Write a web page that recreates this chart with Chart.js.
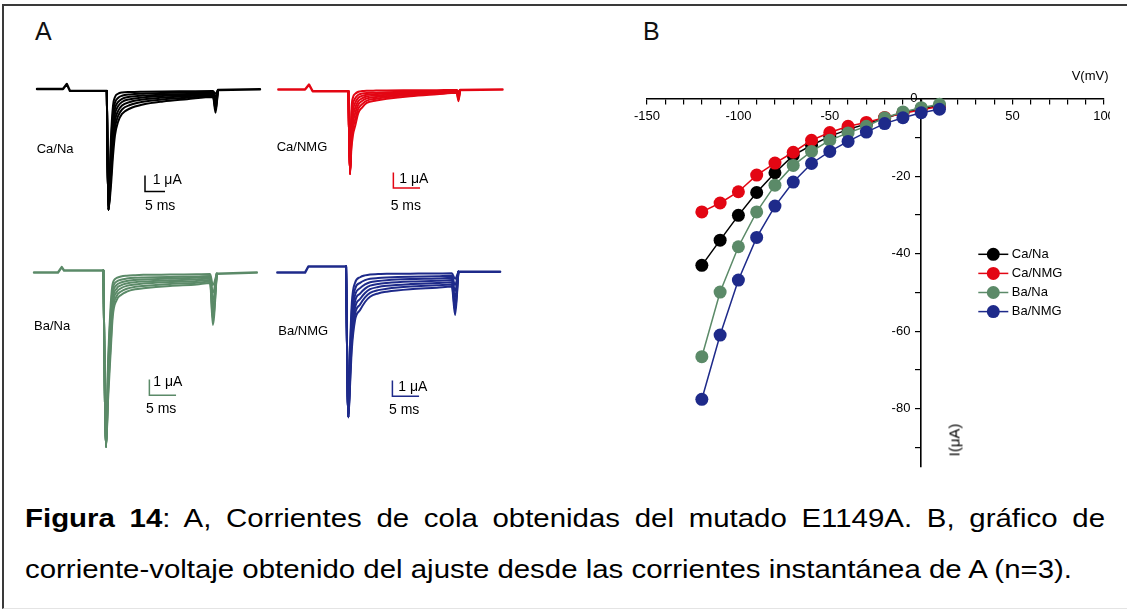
<!DOCTYPE html>
<html lang="es">
<head>
<meta charset="utf-8">
<title>Figura 14</title>
<script src="https://cdn.jsdelivr.net/npm/chart.js@4.4.1/dist/chart.umd.min.js"></script>
<style>
  html, body { margin: 0; padding: 0; background: #fff; }
  body {
    width: 1127px; height: 610px; position: relative; overflow: hidden;
    font-family: 'Liberation Sans', Arial, sans-serif; color: #000;
  }
  .frame {
    position: absolute; left: 2px; top: 4px; width: 1140px; height: 602px;
    border-top: 2px solid #3a3a3a; border-left: 2px solid #3a3a3a; border-bottom: 1px solid #e4e4e4;
  }
  .abs { position: absolute; white-space: nowrap; line-height: normal; }
  .lbl { font-size: 13px; }
  .bar { font-size: 14px; }
  .letter { font-size: 25px; color: #111; }
  canvas { position: absolute; }
  #ivWrap { position: absolute; left: 600px; top: 60px; width: 510px; height: 430px; overflow: hidden; }
  #ivWrap canvas { left: 0; top: 0; }
  .cap { position: absolute; left: 25px; font-size: 26px; white-space: nowrap; transform-origin: 0 0; }
  #cap1 { text-align: justify; text-align-last: justify; white-space: normal; }
</style>
</head>
<body>
<div class="frame"></div>

<canvas id="pCaNa" width="240" height="144" style="left:30px;top:73px;width:240px;height:144px"></canvas>
<canvas id="pCaNmg" width="240" height="132" style="left:270px;top:74px;width:240px;height:132px"></canvas>
<canvas id="pBaNa" width="240" height="202" style="left:25px;top:257px;width:240px;height:202px"></canvas>
<canvas id="pBaNmg" width="240" height="179" style="left:270px;top:257px;width:240px;height:179px"></canvas>
<div id="ivWrap"><canvas id="ivChart" width="530" height="430" style="width:530px;height:430px"></canvas></div>

<div class="abs letter" style="left:35px;top:17px">A</div>
<div class="abs letter" style="left:643px;top:17px">B</div>

<div class="abs lbl" style="left:36.7px;top:140.5px">Ca/Na</div>
<div class="abs lbl" style="left:276.7px;top:139px">Ca/NMG</div>
<div class="abs lbl" style="left:34px;top:318.2px">Ba/Na</div>
<div class="abs lbl" style="left:278.3px;top:322.5px">Ba/NMG</div>

<div class="abs bar" style="left:152.7px;top:171.3px">1 μA</div>
<div class="abs bar" style="left:145px;top:197.4px">5 ms</div>
<div class="abs bar" style="left:399.3px;top:170px">1 μA</div>
<div class="abs bar" style="left:390.7px;top:197.4px">5 ms</div>
<div class="abs bar" style="left:153.3px;top:373.3px">1 μA</div>
<div class="abs bar" style="left:146px;top:400px">5 ms</div>
<div class="abs bar" style="left:398.3px;top:378.3px">1 μA</div>
<div class="abs bar" style="left:389px;top:400.7px">5 ms</div>

<div class="abs lbl" style="left:1071.7px;top:67.5px">V(mV)</div>
<div class="abs" style="left:954px;top:440px;font-size:15px;transform:translate(-50%,-50%) rotate(-90deg)">I(μA)</div>

<div id="cap1" class="cap" style="top:503px;width:1080px"><b>Figura 14</b>: A, Corrientes de cola obtenidas del mutado E1149A. B, gráfico de</div>
<div id="cap2" class="cap" style="top:554px">corriente-voltaje obtenido del ajuste desde las corrientes instantánea de A (n=3).</div>

<script>
// ---- Panel B: current-voltage data ----
const voltages = [-120, -110, -100, -90, -80, -70, -60, -50, -40, -30, -20, -10, 0, 10];
const currentCaNa = [-43.0, -36.5, -30.1, -24.2, -19.1, -14.6, -12.0, -9.7, -7.9, -6.5, -5.0, -3.6, -2.5, -1.8];
const currentCaNmg = [-29.2, -26.9, -24.0, -19.7, -16.6, -13.8, -10.7, -8.7, -7.1, -6.1, -4.8, -3.8, -2.8, -2.0];
const currentBaNa = [-66.6, -49.9, -38.2, -29.2, -22.3, -17.2, -13.6, -10.7, -8.8, -7.1, -4.9, -3.4, -2.3, -1.4];
const currentBaNmg = [-77.6, -61.0, -46.8, -35.8, -27.7, -21.5, -16.7, -13.6, -11.0, -8.6, -6.4, -4.9, -3.6, -2.7];
const seriesNames = ['Ca/Na', 'Ca/NMG', 'Ba/Na', 'Ba/NMG'];
const seriesColors = ['#000000', '#e30613', '#5b8a68', '#1e2a8a'];

const xTickLabels = [-150, -100, -50, 50, 100];
const yTickLabels = [0, -20, -40, -60, -80];

// ---- Panel A: tail current traces (time in ms, current in μA) ----
const baselineCaNa = [[1.75, 0], [8.25, 0], [9.2, 0.31], [10, -0.12], [19.2, -0.12]];
const tailTimeCaNa = [19.6, 20.25, 20.75, 21.25, 22, 23, 25, 28.25, 33.25, 39.25, 45.75];
const tracesCaNa = [
    [-7.56, -6.0, -4.19, -2.88, -2.06, -1.56, -1.22, -0.97, -0.78, -0.64, -0.5],
    [-7.56, -5.5, -3.6, -2.4, -1.7, -1.28, -1.0, -0.8, -0.65, -0.54, -0.44],
    [-7.56, -5.0, -3.0, -1.95, -1.38, -1.03, -0.81, -0.66, -0.54, -0.45, -0.38],
    [-7.56, -4.5, -2.45, -1.55, -1.08, -0.81, -0.64, -0.53, -0.44, -0.38, -0.32],
    [-7.56, -4.0, -1.95, -1.2, -0.82, -0.61, -0.49, -0.41, -0.35, -0.31, -0.26],
    [-7.56, -3.5, -1.5, -0.85, -0.56, -0.42, -0.34, -0.29, -0.25, -0.22, -0.19],
    [-7.56, -3.0, -1.05, -0.5, -0.3, -0.22, -0.19, -0.17, -0.15, -0.14, -0.13],
];
const dipTimeCaNa = 46.4;
const dipCaNa = [-1.48, -1.3, -1.1, -0.9, -0.7, -0.5, -0.3];
const endCaNa = [[47, -0.06], [57.5, -0.02]];

const baselineCaNmg = [[1.56, 0], [6.57, 0], [7.32, 0.32], [8.0, -0.11], [14.7, -0.11]];
const tailTimeCaNmg = [15.0, 15.25, 15.57, 15.95, 16.57, 17.26, 18.14, 19.9, 21.9, 26.27, 31.28, 35.03];
const tracesCaNmg = [
    [-5.44, -3.87, -2.9, -2.37, -1.5, -1.16, -0.86, -0.71, -0.6, -0.43, -0.3, -0.21],
    [-5.44, -3.5, -2.5, -1.95, -1.22, -0.94, -0.71, -0.59, -0.5, -0.36, -0.26, -0.19],
    [-5.44, -3.1, -2.1, -1.55, -0.96, -0.74, -0.57, -0.48, -0.41, -0.3, -0.22, -0.16],
    [-5.44, -2.7, -1.7, -1.2, -0.74, -0.57, -0.45, -0.38, -0.33, -0.25, -0.18, -0.13],
    [-5.44, -2.3, -1.3, -0.88, -0.53, -0.41, -0.33, -0.29, -0.25, -0.19, -0.14, -0.1],
    [-5.44, -1.9, -0.9, -0.58, -0.34, -0.26, -0.22, -0.2, -0.17, -0.13, -0.1, -0.07],
    [-5.44, -1.5, -0.5, -0.28, -0.14, -0.1, -0.08, -0.07, -0.06, -0.05, -0.04, -0.03],
];
const dipTimeCaNmg = 35.33;
const dipCaNmg = [-0.75, -0.65, -0.55, -0.45, -0.35, -0.25, -0.12];
const endCaNmg = [[35.65, -0.03], [43.6, 0]];

const baselineBaNa = [[1.69, 0], [6.19, 0], [6.89, 0.35], [7.32, 0.13], [14.69, 0.13]];
const tailTimeBaNa = [15.2, 15.57, 16.08, 16.45, 17.2, 18.0, 19.08, 20.64, 22.19, 27.2, 32.21, 34.71];
const tracesBaNa = [
    [-11.23, -8.21, -4.99, -2.84, -1.76, -1.44, -1.23, -1.08, -1.01, -0.86, -0.77, -0.68],
    [-11.23, -7.8, -4.5, -2.45, -1.5, -1.22, -1.04, -0.92, -0.86, -0.73, -0.65, -0.58],
    [-11.23, -7.4, -4.0, -2.1, -1.25, -1.01, -0.86, -0.77, -0.71, -0.61, -0.54, -0.48],
    [-11.23, -7.0, -3.5, -1.75, -1.02, -0.82, -0.7, -0.62, -0.58, -0.5, -0.44, -0.39],
    [-11.23, -6.6, -3.0, -1.4, -0.8, -0.64, -0.54, -0.48, -0.45, -0.39, -0.34, -0.3],
    [-11.23, -6.2, -2.5, -1.05, -0.58, -0.46, -0.39, -0.34, -0.32, -0.28, -0.25, -0.22],
    [-11.23, -5.8, -2.0, -0.7, -0.35, -0.25, -0.2, -0.17, -0.15, -0.13, -0.11, -0.1],
];
const dipTimeBaNa = 35.22;
const dipBaNa = [-3.37, -3.0, -2.6, -2.2, -1.8, -1.3, -0.8];
const endBaNa = [[35.97, -0.08], [43.47, 0]];

const baselineBaNmg = [[1.37, 0], [6.57, 0], [7.19, 0.39], [14.26, 0.39]];
const tailTimeBaNmg = [14.69, 15.01, 15.33, 15.95, 16.89, 17.82, 18.76, 20.26, 21.89, 26.27, 31.28, 34.09];
const tracesBaNmg = [
    [-9.29, -7.25, -4.99, -3.05, -2.41, -1.89, -1.55, -1.34, -1.23, -1.07, -0.97, -0.9],
    [-9.29, -6.9, -4.5, -2.65, -2.05, -1.6, -1.31, -1.13, -1.04, -0.9, -0.82, -0.76],
    [-9.29, -6.5, -4.0, -2.25, -1.7, -1.31, -1.07, -0.93, -0.85, -0.74, -0.67, -0.62],
    [-9.29, -6.1, -3.5, -1.85, -1.35, -1.03, -0.84, -0.73, -0.67, -0.58, -0.53, -0.48],
    [-9.29, -5.7, -3.0, -1.45, -1.0, -0.76, -0.62, -0.54, -0.49, -0.42, -0.38, -0.34],
    [-9.29, -5.3, -2.5, -1.05, -0.66, -0.49, -0.4, -0.35, -0.32, -0.27, -0.24, -0.21],
    [-9.29, -4.9, -2.0, -0.65, -0.3, -0.18, -0.12, -0.1, -0.08, -0.07, -0.06, -0.05],
];
const dipTimeBaNmg = 34.71;
const dipBaNmg = [-2.73, -2.4, -2.0, -1.6, -1.2, -0.8, -0.4];
const endBaNmg = [[35.33, 0.05], [43.15, 0.05]];

Chart.defaults.font.family = "'Liberation Sans', Arial, sans-serif";
Chart.defaults.font.size = 13;
Chart.defaults.color = '#000';

// 1 μA / 5 ms calibration bars, drawn in data units of each panel
const scaleBarPlugin = {
    id: 'scaleBar',
    afterDatasetsDraw(chart, args, opts) {
        if (!opts || opts.t === undefined) return;
        const { x, y } = chart.scales;
        const ctx = chart.ctx;
        const x0 = x.getPixelForValue(opts.t);
        const x1 = x.getPixelForValue(opts.t + 5);
        const y0 = y.getPixelForValue(opts.i);
        const y1 = y.getPixelForValue(opts.i + 1);
        ctx.save();
        ctx.strokeStyle = opts.color;
        ctx.lineWidth = 1.5;
        ctx.beginPath();
        ctx.moveTo(x0, y1);
        ctx.lineTo(x0, y0);
        ctx.lineTo(x1, y0);
        ctx.stroke();
        ctx.restore();
    },
};

const toPoints = (pairs) => pairs.map(([x, y]) => ({ x, y }));

const panels = [
    { id: 'pCaNa', color: seriesColors[0], tMax: 60, iMin: -8, iMax: 1, bar: { t: 28.75, i: -6.4 },
      pre: baselineCaNa, tail: tailTimeCaNa, traces: tracesCaNa, dipT: dipTimeCaNa, dips: dipCaNa, post: endCaNa },
    { id: 'pCaNmg', color: seriesColors[1], tMax: 45, iMin: -7.5, iMax: 1, bar: { t: 23.13, i: -6.34 },
      pre: baselineCaNmg, tail: tailTimeCaNmg, traces: tracesCaNmg, dipT: dipTimeCaNmg, dips: dipCaNmg, post: endCaNmg },
    { id: 'pBaNa', color: seriesColors[2], tMax: 45, iMin: -12, iMax: 1, bar: { t: 23.32, i: -7.89 },
      pre: baselineBaNa, tail: tailTimeBaNa, traces: tracesBaNa, dipT: dipTimeBaNa, dips: dipBaNa, post: endBaNa },
    { id: 'pBaNmg', color: seriesColors[3], tMax: 45, iMin: -10.5, iMax: 1, bar: { t: 22.95, i: -7.94 },
      pre: baselineBaNmg, tail: tailTimeBaNmg, traces: tracesBaNmg, dipT: dipTimeBaNmg, dips: dipBaNmg, post: endBaNmg },
];

panels.forEach((p) => {
    const start = p.pre[p.pre.length - 1];
    const datasets = [{ data: toPoints(p.pre), borderColor: p.color, borderWidth: 2.4 }];
    p.traces.forEach((trace, k) => {
        const data = [{ x: start[0], y: start[1] }]
            .concat(p.tail.map((t, j) => ({ x: t, y: trace[j] })))
            .concat([{ x: p.dipT, y: p.dips[k] }, { x: p.post[0][0], y: p.post[0][1] }]);
        datasets.push({
            data,
            borderColor: p.color,
            borderWidth: 2,
            cubicInterpolationMode: 'monotone',
        });
    });
    datasets.push({ data: toPoints(p.post), borderColor: p.color, borderWidth: 2.4 });

    new Chart(document.getElementById(p.id), {
        type: 'line',
        data: { datasets },
        options: {
            responsive: false,
            animation: false,
            events: [],
            devicePixelRatio: 1,
            layout: { padding: 0 },
            elements: {
                point: { radius: 0 },
                line: { borderCapStyle: 'round', borderJoinStyle: 'round' },
            },
            plugins: {
                legend: { display: false },
                tooltip: { enabled: false },
                scaleBar: { t: p.bar.t, i: p.bar.i, color: p.color },
            },
            scales: {
                x: { type: 'linear', display: false, min: 0, max: p.tMax },
                y: { type: 'linear', display: false, min: p.iMin, max: p.iMax },
            },
        },
        plugins: [scaleBarPlugin],
    });
});

// legend drawn inside the I-V plot area
const ivLegend = {
    id: 'ivLegend',
    afterDraw(chart, args, opts) {
        const ctx = chart.ctx;
        ctx.save();
        chart.data.datasets.forEach((ds, k) => {
            const y = opts.top + k * opts.gap;
            ctx.strokeStyle = ds.borderColor;
            ctx.lineWidth = ds.borderWidth;
            ctx.beginPath();
            ctx.moveTo(opts.left, y);
            ctx.lineTo(opts.left + opts.lineLen, y);
            ctx.stroke();
            ctx.fillStyle = ds.pointBackgroundColor;
            ctx.beginPath();
            ctx.arc(opts.left + opts.lineLen / 2, y, ds.pointRadius, 0, Math.PI * 2);
            ctx.fill();
            ctx.fillStyle = '#000';
            ctx.font = "13px 'Liberation Sans', Arial, sans-serif";
            ctx.textBaseline = 'middle';
            ctx.fillText(ds.label, opts.left + opts.lineLen + 3.5, y);
        });
        ctx.restore();
    },
};

const ivSeries = [currentCaNa, currentCaNmg, currentBaNa, currentBaNmg];

new Chart(document.getElementById('ivChart'), {
    type: 'line',
    data: {
        datasets: seriesNames.map((name, k) => ({
            label: name,
            data: voltages.map((v, j) => ({ x: v, y: ivSeries[k][j] })),
            borderColor: seriesColors[k],
            backgroundColor: seriesColors[k],
            pointBackgroundColor: seriesColors[k],
            pointBorderColor: seriesColors[k],
            pointRadius: 6.5,
            pointBorderWidth: 0,
            borderWidth: 1.5,
            order: 4 - k,
            clip: false,
        })),
    },
    options: {
        responsive: false,
        animation: false,
        events: [],
        devicePixelRatio: 1,
        layout: { padding: { left: 47, right: 26, top: 38.8, bottom: 23.3 } },
        plugins: {
            legend: { display: false },
            tooltip: { enabled: false },
            ivLegend: { left: 378.3, top: 194.3, gap: 19.1, lineLen: 30 },
        },
        scales: {
            x: {
                type: 'linear',
                min: -150,
                max: 100,
                position: { y: 0 },
                afterFit: (scale) => { scale.height = 0; },
                border: { color: '#000', width: 1.6 },
                grid: { drawOnChartArea: false, drawTicks: true, tickLength: 5, color: '#000', lineWidth: 1.2 },
                ticks: {
                    stepSize: 10,
                    autoSkip: false,
                    maxRotation: 0,
                    padding: 5,
                    color: '#000',
                    callback: (v) => (xTickLabels.includes(v) ? String(v) : ''),
                },
            },
            y: {
                type: 'linear',
                min: -95,
                max: 0,
                position: { x: 0 },
                afterFit: (scale) => { scale.width = 0; },
                border: { color: '#000', width: 1.6 },
                grid: { drawOnChartArea: false, drawTicks: true, tickLength: 5, color: '#000', lineWidth: 1.2 },
                ticks: {
                    stepSize: 10,
                    includeBounds: false,
                    autoSkip: false,
                    padding: 5,
                    color: '#000',
                    // labels of an axis placed at x = 0 are drawn flush with the axis; pad them off it
                    callback: (v) => {
                        if (!yTickLabels.includes(v)) return '';
                        return v === 0 ? '0 ' : `${v}   `;
                    },
                },
            },
        },
    },
    plugins: [ivLegend],
});

// stretch the caption horizontally to the measured line length of the figure
const cap1 = document.getElementById('cap1');
const cap2 = document.getElementById('cap2');
const natural = cap2.getBoundingClientRect().width;
const stretch = 1047 / natural;
cap2.style.transform = `scaleX(${stretch})`;
cap1.style.width = `${1080 / stretch}px`;
cap1.style.transform = `scaleX(${stretch})`;
</script>
</body>
</html>
